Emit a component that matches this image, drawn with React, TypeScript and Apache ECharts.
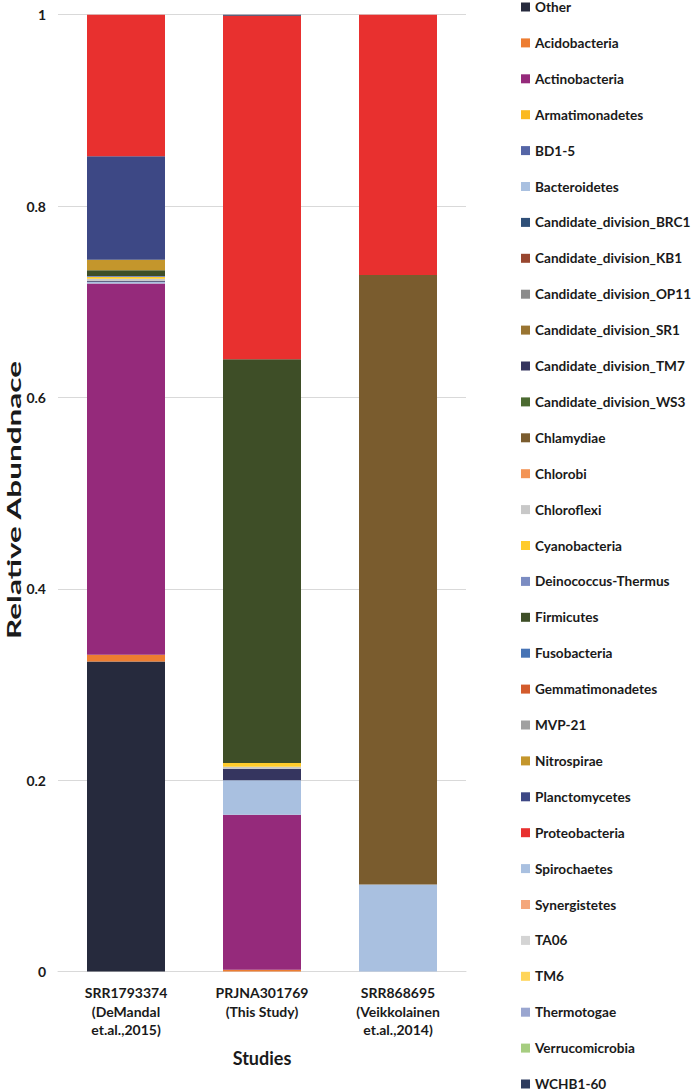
import React, { useEffect, useRef } from "react";
import * as echarts from "echarts";

const categories = [
  "SRR1793374\n(DeMandal\net.al.,2015)",
  "PRJNA301769\n(This Study)",
  "SRR868695\n(Veikkolainen\net.al.,2014)",
];

const yTicks = [0, 0.2, 0.4, 0.6, 0.8, 1];

// values per study: [SRR1793374, PRJNA301769, SRR868695]
const other = [0.324, 0, 0];
const acidobacteria = [0.007, 0.002, 0];
const actinobacteria = [0.388, 0.162, 0];
const armatimonadetes = [0, 0, 0];
const bd15 = [0, 0, 0];
const bacteroidetes = [0.002, 0.036, 0.091];
const brc1 = [0, 0, 0];
const kb1 = [0, 0, 0];
const op11 = [0, 0, 0];
const sr1 = [0, 0, 0];
const tm7 = [0.001, 0.012, 0];
const ws3 = [0, 0, 0];
const chlamydiae = [0, 0, 0.637];
const chlorobi = [0, 0, 0];
const chloroflexi = [0.002, 0.002, 0];
const cyanobacteria = [0.002, 0.004, 0];
const deinococcus = [0.001, 0, 0];
const firmicutes = [0.006, 0.422, 0];
const fusobacteria = [0, 0, 0];
const gemmatimonadetes = [0, 0, 0];
const mvp21 = [0, 0, 0];
const nitrospirae = [0.011, 0, 0];
const planctomycetes = [0.108, 0, 0];
const proteobacteria = [0.148, 0.359, 0.272];
const spirochaetes = [0, 0, 0];
const synergistetes = [0, 0, 0];
const ta06 = [0, 0, 0];
const tm6 = [0, 0, 0];
const thermotogae = [0, 0, 0];
const verrucomicrobia = [0, 0, 0];
const wchb160 = [0, 0.001, 0];

const seriesNames = [
  "Other", "Acidobacteria", "Actinobacteria", "Armatimonadetes", "BD1-5",
  "Bacteroidetes", "Candidate_division_BRC1", "Candidate_division_KB1",
  "Candidate_division_OP11", "Candidate_division_SR1", "Candidate_division_TM7",
  "Candidate_division_WS3", "Chlamydiae", "Chlorobi", "Chloroflexi",
  "Cyanobacteria", "Deinococcus-Thermus", "Firmicutes", "Fusobacteria",
  "Gemmatimonadetes", "MVP-21", "Nitrospirae", "Planctomycetes",
  "Proteobacteria", "Spirochaetes", "Synergistetes", "TA06", "TM6",
  "Thermotogae", "Verrucomicrobia", "WCHB1-60",
];

const seriesValues = [
  other, acidobacteria, actinobacteria, armatimonadetes, bd15,
  bacteroidetes, brc1, kb1, op11, sr1, tm7, ws3, chlamydiae, chlorobi,
  chloroflexi, cyanobacteria, deinococcus, firmicutes, fusobacteria,
  gemmatimonadetes, mvp21, nitrospirae, planctomycetes, proteobacteria,
  spirochaetes, synergistetes, ta06, tm6, thermotogae, verrucomicrobia, wchb160,
];

const seriesColors = [
  "#262a3d", "#ed7d31", "#952a7b", "#fbb91e", "#5565a6",
  "#a9c0e0", "#2f4f78", "#98462f", "#8c8c8c", "#997431",
  "#35355f", "#4b6a30", "#7a5c2e", "#f39455", "#c8c8c8",
  "#ffcb2b", "#7b8cc2", "#3e4e27", "#4673b5", "#d35b2c",
  "#a0a0a0", "#c4962c", "#3d4885", "#e8302f", "#a9c0e0",
  "#f4a77c", "#d4d4d4", "#ffd55a", "#9aa6d0", "#a6cd80", "#2d3b5e",
];

const FONT = "Lato, 'Open Sans', sans-serif";

export default function App() {
  const ref = useRef<HTMLDivElement>(null);
  useEffect(() => {
    if (!ref.current) return;
    const chart = echarts.init(ref.current, null, { renderer: "svg" });
    chart.setOption({
      animation: false,
      backgroundColor: "#ffffff",
      textStyle: { fontFamily: FONT },
      grid: { left: 58, right: 231, top: 14.7, bottom: 119.4, containLabel: false },
      legend: {
        orient: "vertical",
        left: 521,
        top: 0,
        padding: 0,
        itemWidth: 9,
        itemHeight: 9,
        itemGap: 21.9,
        icon: "rect",
        data: seriesNames,
        textStyle: {
          fontFamily: FONT,
          fontWeight: "bold",
          fontSize: 13.6,
          color: "#1a1a1a",
        },
      },
      graphic: [
        {
          type: "text",
          x: 13.5,
          y: 500,
          rotation: Math.PI / 2,
          scaleX: 1.75,
          style: {
            text: "Relative Abundnace",
            fontFamily: FONT,
            fontWeight: "bold",
            fontSize: 18,
            fill: "#1a1a1a",
            align: "center",
            verticalAlign: "middle",
          },
        },
      ],
      xAxis: {
        type: "category",
        data: categories,
        axisLine: { show: true, lineStyle: { color: "#d9d9d9" } },
        axisTick: { show: false },
        axisLabel: {
          interval: 0,
          margin: 12,
          fontFamily: FONT,
          fontWeight: "bold",
          fontSize: 14,
          lineHeight: 18.5,
          color: "#1a1a1a",
        },
        name: "Studies",
        nameLocation: "middle",
        nameGap: 77,
        nameTextStyle: { fontFamily: FONT, fontWeight: "bold", fontSize: 18, color: "#1a1a1a" },
      },
      yAxis: {
        type: "value",
        min: 0,
        max: 1,
        interval: 0.2,
        axisLine: { show: false },
        axisTick: { show: false },
        splitLine: { lineStyle: { color: "#d9d9d9", width: 1 } },
        axisLabel: {
          margin: 12,
          fontFamily: FONT,
          fontWeight: "bold",
          fontSize: 14,
          color: "#1a1a1a",
          formatter: (v: number) => {
            const t = yTicks.find((k) => Math.abs(k - v) < 1e-6);
            return String(t !== undefined ? t : parseFloat(v.toFixed(1)));
          },
        },
      },
      series: seriesNames.map((name, i) => ({
        name,
        type: "bar",
        stack: "total",
        barWidth: 78,
        data: seriesValues[i],
        itemStyle: { color: seriesColors[i] },
      })),
    });
    return () => chart.dispose();
  }, []);
  return (
    <div
      ref={ref}
      style={{ width: 697, height: 1091, position: "absolute", left: 0, top: 0 }}
    />
  );
}
